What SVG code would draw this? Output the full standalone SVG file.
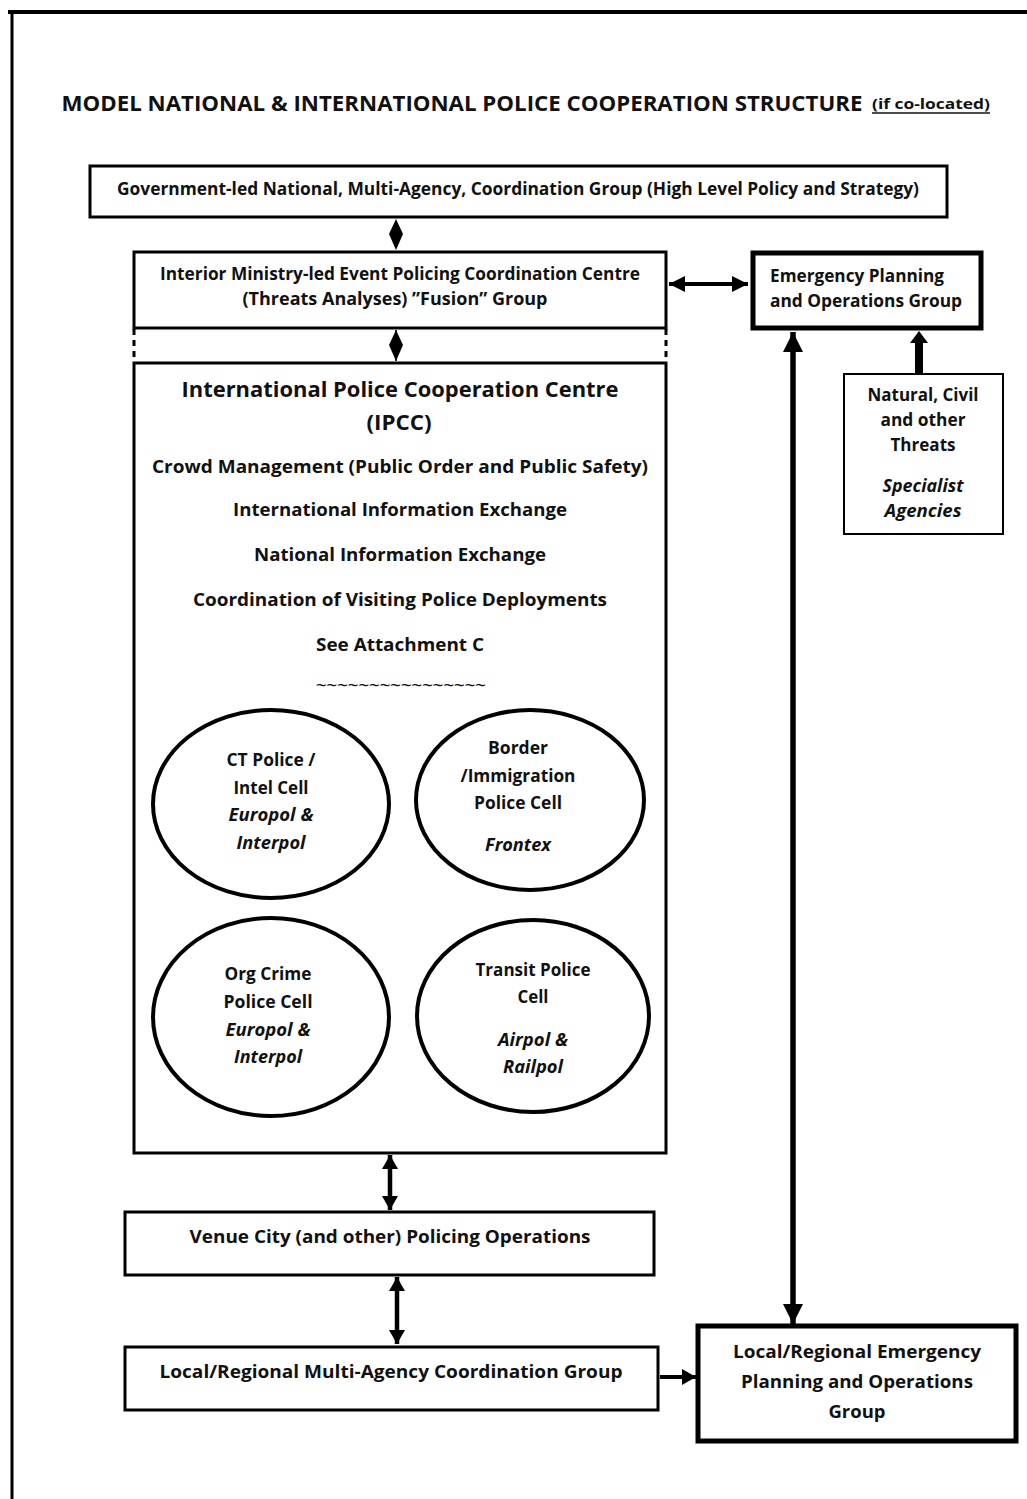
<svg xmlns="http://www.w3.org/2000/svg" width="1027" height="1499" viewBox="0 0 1027 1499">
<style>
text{font-family:"Open Sans",Lato,"Liberation Sans",sans-serif;font-weight:bold;fill:#111;text-anchor:middle}
.it{font-style:italic}
.box{fill:#fff;stroke:#000;stroke-width:3}
.thick{stroke-width:5}
.thin{stroke-width:2}
.ell{fill:#fff;stroke:#000;stroke-width:4}
.con{stroke:#000;fill:none}
.head{fill:#000}
</style>
<defs>
<marker id="ahM" viewBox="0 0 16 16" refX="16" refY="8" markerWidth="16" markerHeight="16" orient="auto-start-reverse" markerUnits="userSpaceOnUse">
<path d="M0,0 L16,8 L0,16 z" fill="#000"/>
</marker>
<marker id="ahL" viewBox="0 0 20 20" refX="20" refY="10" markerWidth="20" markerHeight="20" orient="auto-start-reverse" markerUnits="userSpaceOnUse">
<path d="M0,0 L20,10 L0,20 z" fill="#000"/>
</marker>
<marker id="ahS" viewBox="0 0 14 16" refX="14" refY="8" markerWidth="14" markerHeight="16" orient="auto-start-reverse" markerUnits="userSpaceOnUse">
<path d="M0,0 L14,8 L0,16 z" fill="#000"/>
</marker>
</defs>
<rect width="1027" height="1499" fill="#fff"/>
<g id="frame">
<line x1="8" y1="12" x2="1027" y2="12" stroke="#000" stroke-width="4"/>
<line x1="12" y1="10" x2="12" y2="1499" stroke="#000" stroke-width="3"/>
</g>
<g id="title">
<text x="462" y="111" font-size="22" textLength="801" lengthAdjust="spacingAndGlyphs">MODEL NATIONAL &amp; INTERNATIONAL POLICE COOPERATION STRUCTURE</text>
<text x="931" y="109" font-size="15" textLength="118" lengthAdjust="spacingAndGlyphs">(if co-located)</text>
<line x1="872" y1="113" x2="990" y2="113" stroke="#111" stroke-width="1.5"/>
</g>
<g id="connectors">
<polygon class="head" points="396,219 403,234 396,250 389,234"/>
<polygon class="head" points="396,330 403,345 396,361 389,345"/>
<line class="con" x1="396" y1="330" x2="396" y2="361" stroke-width="1.5"/>
<line class="con" x1="669" y1="284" x2="748" y2="284" stroke-width="4" marker-start="url(#ahM)" marker-end="url(#ahM)"/>
<line class="con" x1="793" y1="332" x2="793" y2="1324" stroke-width="5.5" marker-start="url(#ahL)" marker-end="url(#ahL)"/>
<line class="con" x1="919" y1="373" x2="919" y2="340" stroke-width="8"/>
<polygon class="head" points="919,331 928,343 910,343"/>
<line class="con" x1="390" y1="1155" x2="390" y2="1210" stroke-width="4.5" marker-start="url(#ahS)" marker-end="url(#ahS)"/>
<line class="con" x1="397" y1="1277" x2="397" y2="1344" stroke-width="4.5" marker-start="url(#ahS)" marker-end="url(#ahS)"/>
<line class="con" x1="660" y1="1377" x2="696" y2="1377" stroke-width="4" marker-end="url(#ahS)"/>
</g>
<g id="gov">
<rect class="box" x="90" y="166" width="857" height="51"/>
<text x="518" y="195" font-size="17" textLength="802" lengthAdjust="spacingAndGlyphs">Government-led National, Multi-Agency, Coordination Group (High Level Policy and Strategy)</text>
</g>
<g id="interior">
<rect class="box" x="134" y="252" width="532" height="76"/>
<text x="400" y="280" font-size="17" textLength="480" lengthAdjust="spacingAndGlyphs">Interior Ministry-led Event Policing Coordination Centre</text>
<text x="395" y="305" font-size="17" textLength="305" lengthAdjust="spacingAndGlyphs">(Threats Analyses) ”Fusion” Group</text>
</g>
<g id="dotted">
<line x1="134" y1="329" x2="134" y2="362" stroke="#000" stroke-width="3" stroke-dasharray="6,5"/>
<line x1="666" y1="329" x2="666" y2="362" stroke="#000" stroke-width="3" stroke-dasharray="6,5"/>
</g>
<g id="emergency">
<rect class="box thick" x="753" y="253" width="228" height="75"/>
<text x="770" y="282" font-size="17" style="text-anchor:start" textLength="174" lengthAdjust="spacingAndGlyphs">Emergency Planning</text>
<text x="770" y="307" font-size="17" style="text-anchor:start" textLength="192" lengthAdjust="spacingAndGlyphs">and Operations Group</text>
</g>
<g id="natural">
<rect class="box thin" x="844" y="374" width="159" height="160"/>
<text x="923" y="401" font-size="17" textLength="111" lengthAdjust="spacingAndGlyphs">Natural, Civil</text>
<text x="923" y="426" font-size="17" textLength="85" lengthAdjust="spacingAndGlyphs">and other</text>
<text x="923" y="451" font-size="17" textLength="65" lengthAdjust="spacingAndGlyphs">Threats</text>
<text class="it" x="923" y="492" font-size="17" textLength="81" lengthAdjust="spacingAndGlyphs">Specialist</text>
<text class="it" x="923" y="517" font-size="17" textLength="77" lengthAdjust="spacingAndGlyphs">Agencies</text>
</g>
<g id="ipcc">
<rect class="box" x="134" y="363" width="532" height="790"/>
<text x="400" y="397" font-size="22" textLength="437" lengthAdjust="spacingAndGlyphs">International Police Cooperation Centre</text>
<text x="399" y="430" font-size="22" textLength="65" lengthAdjust="spacingAndGlyphs">(IPCC)</text>
<text x="400" y="473" font-size="18.5" textLength="496" lengthAdjust="spacingAndGlyphs">Crowd Management (Public Order and Public Safety)</text>
<text x="400" y="516" font-size="18.5" textLength="334" lengthAdjust="spacingAndGlyphs">International Information Exchange</text>
<text x="400" y="561" font-size="18.5" textLength="292" lengthAdjust="spacingAndGlyphs">National Information Exchange</text>
<text x="400" y="606" font-size="18.5" textLength="414" lengthAdjust="spacingAndGlyphs">Coordination of Visiting Police Deployments</text>
<text x="400" y="651" font-size="18.5" textLength="168" lengthAdjust="spacingAndGlyphs">See Attachment C</text>
<text x="401" y="690" font-size="13" textLength="170" lengthAdjust="spacingAndGlyphs">~~~~~~~~~~~~~~~~</text>
</g>
<g id="ct-cell">
<ellipse class="ell" cx="271" cy="804" rx="118" ry="94"/>
<text x="271" y="766" font-size="17.5" textLength="89" lengthAdjust="spacingAndGlyphs">CT Police /</text>
<text x="271" y="794" font-size="17.5" textLength="75" lengthAdjust="spacingAndGlyphs">Intel Cell</text>
<text class="it" x="271" y="821" font-size="17.5" textLength="85" lengthAdjust="spacingAndGlyphs">Europol &amp;</text>
<text class="it" x="271" y="849" font-size="17.5" textLength="69" lengthAdjust="spacingAndGlyphs">Interpol</text>
</g>
<g id="border-cell">
<ellipse class="ell" cx="530" cy="800" rx="114" ry="90"/>
<text x="518" y="754" font-size="17.5" textLength="60" lengthAdjust="spacingAndGlyphs">Border</text>
<text x="518" y="782" font-size="17.5" textLength="115" lengthAdjust="spacingAndGlyphs">/Immigration</text>
<text x="518" y="809" font-size="17.5" textLength="88" lengthAdjust="spacingAndGlyphs">Police Cell</text>
<text class="it" x="518" y="851" font-size="17.5" textLength="66" lengthAdjust="spacingAndGlyphs">Frontex</text>
</g>
<g id="orgcrime-cell">
<ellipse class="ell" cx="271" cy="1017" rx="118" ry="99"/>
<text x="268" y="980" font-size="17.5" textLength="87" lengthAdjust="spacingAndGlyphs">Org Crime</text>
<text x="268" y="1008" font-size="17.5" textLength="89" lengthAdjust="spacingAndGlyphs">Police Cell</text>
<text class="it" x="268" y="1036" font-size="17.5" textLength="85" lengthAdjust="spacingAndGlyphs">Europol &amp;</text>
<text class="it" x="268" y="1063" font-size="17.5" textLength="68" lengthAdjust="spacingAndGlyphs">Interpol</text>
</g>
<g id="transit-cell">
<ellipse class="ell" cx="533" cy="1016" rx="116" ry="96"/>
<text x="533" y="976" font-size="17.5" textLength="115" lengthAdjust="spacingAndGlyphs">Transit Police</text>
<text x="533" y="1003" font-size="17.5" textLength="31" lengthAdjust="spacingAndGlyphs">Cell</text>
<text class="it" x="533" y="1046" font-size="17.5" textLength="70" lengthAdjust="spacingAndGlyphs">Airpol &amp;</text>
<text class="it" x="533" y="1073" font-size="17.5" textLength="60" lengthAdjust="spacingAndGlyphs">Railpol</text>
</g>
<g id="venue">
<rect class="box" x="125" y="1212" width="529" height="63"/>
<text x="390" y="1243" font-size="18.5" textLength="401" lengthAdjust="spacingAndGlyphs">Venue City (and other) Policing Operations</text>
</g>
<g id="local-ma">
<rect class="box" x="125" y="1347" width="533" height="63"/>
<text x="391" y="1378" font-size="18.5" textLength="463" lengthAdjust="spacingAndGlyphs">Local/Regional Multi-Agency Coordination Group</text>
</g>
<g id="local-emergency">
<rect class="box thick" x="698" y="1326" width="318" height="115"/>
<text x="857" y="1358" font-size="18.5" textLength="248" lengthAdjust="spacingAndGlyphs">Local/Regional Emergency</text>
<text x="857" y="1388" font-size="18.5" textLength="232" lengthAdjust="spacingAndGlyphs">Planning and Operations</text>
<text x="857" y="1418" font-size="18.5" textLength="57" lengthAdjust="spacingAndGlyphs">Group</text>
</g>
</svg>
